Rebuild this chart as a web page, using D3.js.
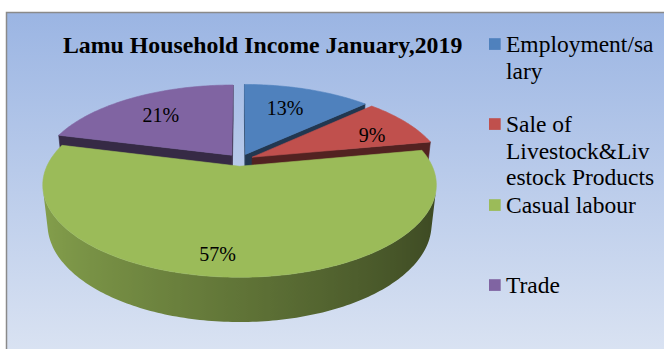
<!DOCTYPE html>
<html>
<head>
<meta charset="utf-8">
<script src="https://cdn.jsdelivr.net/npm/d3@7"></script>
<style>
  body { margin: 0; background: #fff; }
  svg { display: block; }
</style>
</head>
<body>
<script>
// chart data
var title = "Lamu Household Income January,2019";
var categories = ["Employment/salary", "Sale of Livestock&Livestock Products", "Casual labour", "Trade"];
var values = [13, 9, 57, 21];
var colors = ["#4f81bd", "#c0504d", "#9bbb59", "#8064a2"];
// legend text wraps exactly like the original
var legendLines = [["Employment/sa", "lary"], ["Sale of", "Livestock&Liv", "estock Products"], ["Casual labour"], ["Trade"]];

var W = 664, H = 349;

// perspective camera for the 3d pie
var cam = { cx: 240, cy: 160, f: 847, dist: 4.46, sinT: 0.4526 };
cam.cosT = Math.sqrt(1 - cam.sinT * cam.sinT);
var thick = 0.23, explode = 0.072;

// label nudges (px) on top of the projected position
var labelNudge = [[-6, 1], [10, 3], [-17, 16], [1, 2]];
var labelR = 0.7;
var serif = "'Liberation Serif', 'Times New Roman', serif";

var proj = function(p) {
	var up = p[1] * cam.sinT + p[2] * cam.cosT;
	var dep = cam.dist + p[1] * cam.cosT - p[2] * cam.sinT;
	return [cam.cx + cam.f * p[0] / dep, cam.cy - cam.f * up / dep];
};
var depthOf = function(p) { return cam.dist + p[1] * cam.cosT - p[2] * cam.sinT; };
var camPos = [0, -cam.dist * cam.cosT, cam.dist * cam.sinT];
var facing = function(p, n) {
	return (camPos[0] - p[0]) * n[0] + (camPos[1] - p[1]) * n[1] + (camPos[2] - p[2]) * n[2] > 0;
};

var svg = d3.select("body").append("svg").attr("width", W).attr("height", H);
var defs = svg.append("defs");

var grad = defs.append("linearGradient")
	.attr("id", "bg").attr("x1", 0).attr("y1", 0).attr("x2", 0).attr("y2", 1);
grad.append("stop").attr("offset", "0%").attr("stop-color", "#9bb5e3");
grad.append("stop").attr("offset", "100%").attr("stop-color", "#dde5f3");

svg.append("rect").attr("x", -10).attr("y", -10).attr("width", W + 20).attr("height", H + 20).attr("fill", "#fff");
svg.append("rect")
	.attr("x", 6.5).attr("y", 12.5).attr("width", W + 20).attr("height", H + 10)
	.attr("fill", "url(#bg)").attr("stroke", "#8a8a8a").attr("stroke-width", 1.5);

svg.append("text")
	.attr("x", 63).attr("y", 53)
	.attr("font-family", serif)
	.attr("font-weight", "bold").attr("font-size", 23.8)
	.attr("fill", "#000")
	.text(title);

// slices
var arcs = d3.pie().sort(null).value(function(d) { return d; })(values);
arcs.forEach(function(a, i) {
	a.i = i;
	a.mid = (a.startAngle + a.endAngle) / 2;
	a.ox = explode * Math.sin(a.mid);
	a.oy = explode * Math.cos(a.mid);
});

var pt = function(a, th, r, z) {
	return [a.ox + r * Math.sin(th), a.oy + r * Math.cos(th), z];
};

var pie = svg.append("g").attr("class", "pie");

var poly = function(pts, fill, stroke) {
	return pie.append("path")
		.attr("d", d3.line()(pts.map(proj)) + "Z")
		.attr("fill", fill).attr("stroke", stroke || fill)
		.attr("stroke-width", 0.6).attr("stroke-linejoin", "round");
};

var order = arcs.slice().sort(function(a, b) {
	return depthOf(pt(b, b.mid, 0.5, 0)) - depthOf(pt(a, a.mid, 0.5, 0));
});

order.forEach(function(a) {
	var base = d3.color(colors[a.i]);
	var light = base.darker(0.42), dark = base.darker(2.7);
	var side = base.darker(2.4);

	// radial faces
	var a0 = a.startAngle, a1 = a.endAngle;
	if (facing(pt(a, a0, 0.5, -thick / 2), [-Math.cos(a0), Math.sin(a0), 0])) {
		poly([pt(a, a0, 0, 0), pt(a, a0, 1, 0), pt(a, a0, 1, -thick), pt(a, a0, 0, -thick)], side);
	}
	if (facing(pt(a, a1, 0.5, -thick / 2), [Math.cos(a1), -Math.sin(a1), 0])) {
		poly([pt(a, a1, 0, 0), pt(a, a1, 1, 0), pt(a, a1, 1, -thick), pt(a, a1, 0, -thick)], side);
	}

	// outer wall: one path over the visible part, horizontal gradient light->dark
	var n = Math.max(2, Math.ceil((a1 - a0) / (Math.PI / 180)));
	var vis = [];
	for (var k = 0; k <= n; k++) {
		var th = a0 + (a1 - a0) * k / n;
		if (facing(pt(a, th, 1, -thick / 2), [Math.sin(th), Math.cos(th), 0])) vis.push(th);
	}
	if (vis.length > 1) {
		var topPts = vis.map(function(th) { return pt(a, th, 1, 0); });
		var botPts = vis.map(function(th) { return pt(a, th, 1, -thick); }).reverse();
		var xs = vis.map(function(th) { return proj(pt(a, th, 1, 0))[0]; });
		var x0 = d3.min(xs), x1 = d3.max(xs);
		var wg = defs.append("linearGradient").attr("id", "wall" + a.i)
			.attr("gradientUnits", "userSpaceOnUse")
			.attr("x1", x0).attr("y1", 0).attr("x2", x1).attr("y2", 0);
		var stops = vis.map(function(th, k) {
			return { o: (xs[k] - x0) / Math.max(1, x1 - x0), c: d3.interpolateRgb(dark, light)((1 - Math.sin(th)) / 2) };
		}).sort(function(p, q) { return p.o - q.o; });
		stops.forEach(function(s) {
			wg.append("stop").attr("offset", s.o).attr("stop-color", s.c);
		});
		poly(topPts.concat(botPts), "url(#wall" + a.i + ")", "none");
	}

	// top face
	var top = [pt(a, a0, 0, 0)];
	var m = Math.ceil((a1 - a0) / (Math.PI / 180));
	for (var j = 0; j <= m; j++) top.push(pt(a, a0 + (a1 - a0) * j / m, 1, 0));
	poly(top, base.formatHex());
});

// percentage labels
var total = d3.sum(values);
arcs.forEach(function(a) {
	var p = proj(pt(a, a.mid, labelR, 0));
	svg.append("text")
		.attr("x", p[0] + labelNudge[a.i][0]).attr("y", p[1] + labelNudge[a.i][1])
		.attr("dy", "0.35em").attr("text-anchor", "middle")
		.attr("font-family", serif)
		.attr("font-size", 20).attr("fill", "#000")
		.text(d3.format(".0%")(a.data / total));
});

// legend
var legendBase = [52, 132, 213, 293];
var lineH = 26.5;
var legend = svg.append("g").attr("class", "legend");
legendLines.forEach(function(lines, i) {
	legend.append("rect")
		.attr("x", 489).attr("y", legendBase[i] - 8 - 5.8)
		.attr("width", 11.7).attr("height", 11.7)
		.attr("fill", colors[i]);
	lines.forEach(function(s, j) {
		legend.append("text")
			.attr("x", 506).attr("y", legendBase[i] + j * lineH)
			.attr("font-family", serif)
			.attr("font-size", 23.5).attr("fill", "#000")
			.text(s);
	});
});
</script>
</body>
</html>
